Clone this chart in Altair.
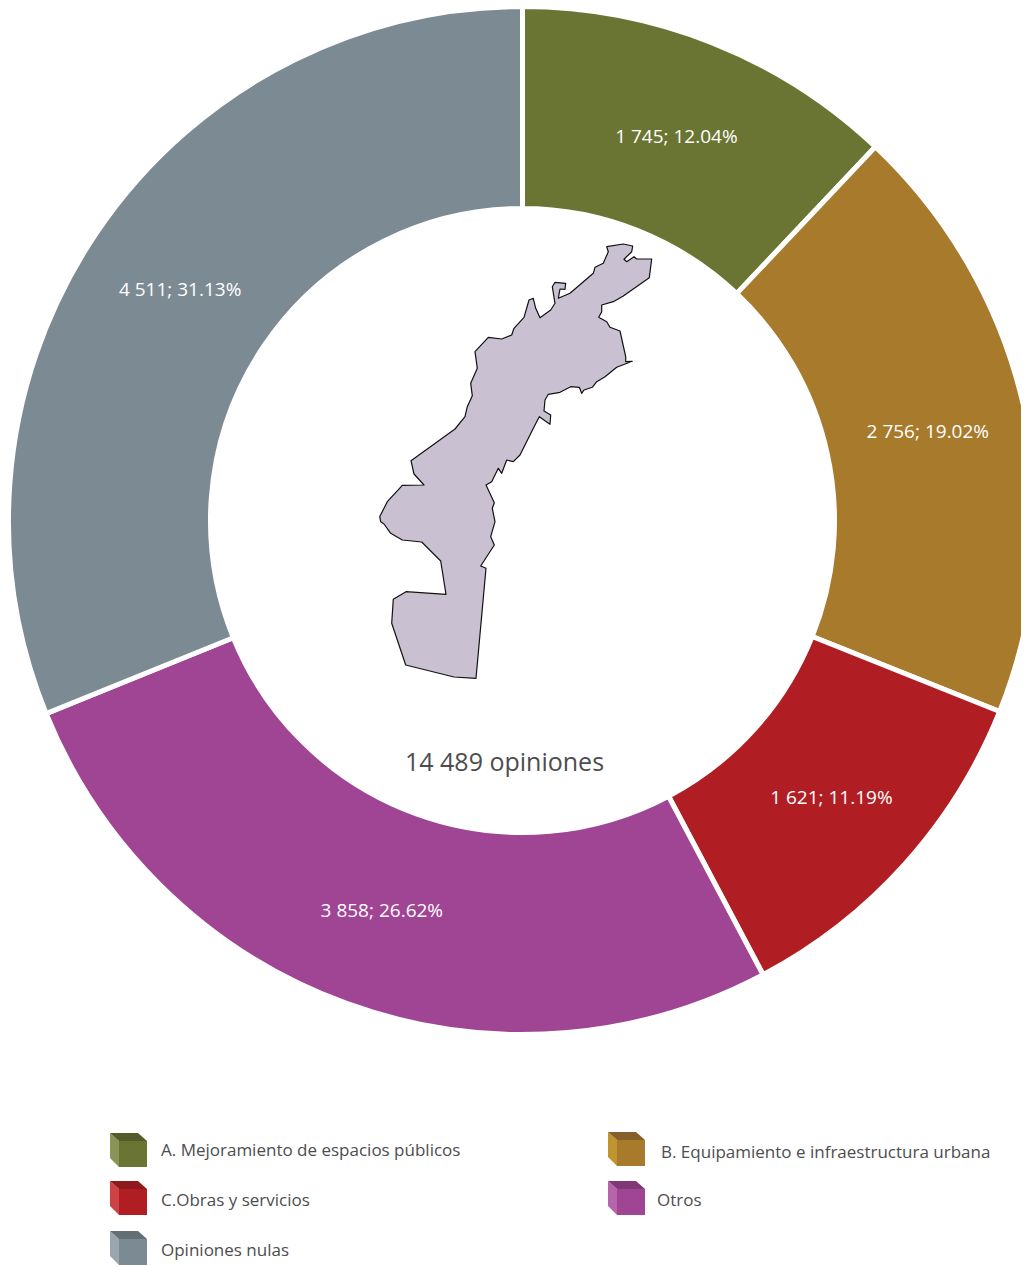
import altair as alt
import pandas as pd

# ---- values
categories = ["A. Mejoramiento de espacios públicos", "B. Equipamiento e infraestructura urbana",
              "C.Obras y servicios", "Otros", "Opiniones nulas"]
slice_order = [0, 1, 2, 3, 4]
counts = [1745, 2756, 1621, 3858, 4511]
labels = ["1 745; 12.04%", "2 756; 19.02%", "1 621; 11.19%", "3 858; 26.62%", "4 511; 31.13%"]
colors = ["#6b7533", "#a87a2c", "#b01e23", "#a04494", "#7c8a93"]
cube_left = ["#8a9458", "#c0952f", "#cc4347", "#b765ab", "#9aa5ad"]
cube_top = ["#545a2a", "#86602a", "#8f1a1e", "#7f3777", "#646e75"]

total_label = "14 489 opiniones"

legend_x = [161, 661, 161, 657, 161]
legend_y = [1151, 1153, 1201, 1201, 1251]
cube_x = [110, 608, 110, 608, 110]
cube_y = [1133, 1132, 1181, 1181, 1231]

# cube outline, relative to its top-left corner
cube_front = [(9, 8), (37, 8), (37, 34), (9, 34)]
cube_side = [(0, 0), (9, 8), (9, 34), (0, 25)]
cube_roof = [(0, 0), (28, 0), (37, 8), (9, 8)]

# outline of the territory
map_outline = [
    (651.7, 259), (649.3, 277.7), (623.3, 296), (613.3, 301.7), (601.7, 305), (601.7, 311.7),
    (598.7, 317.3), (606.7, 321.7), (610, 327.3), (620, 331), (625.7, 356.7), (625.7, 361.7),
    (632.3, 361.3), (616.7, 367.3), (605, 376.7), (596.7, 381.7), (592.3, 387.3), (584, 390),
    (581.7, 393.3), (579.3, 387.3), (570.7, 386.7), (560, 392.3), (548.3, 394.3), (545, 400),
    (544, 411), (550.7, 415), (550, 424.3), (539.3, 416.7), (535, 425), (520, 455),
    (513.3, 461.7), (506.7, 460), (501.7, 473.3), (498.3, 468.3), (491.7, 481.7), (486, 485),
    (494.3, 502.7), (492.3, 508.3), (495, 521.7), (490.7, 536.7), (494.3, 545), (480.7, 566),
    (486, 568.3), (476, 678.3), (454, 677), (405.7, 665), (391.7, 623.3), (393.3, 599.3),
    (406, 591.7), (446, 594.3), (440.7, 561), (421.7, 542), (402.3, 540), (390.7, 533.3),
    (384, 524), (380.7, 521.7), (379.7, 516.7), (387.3, 501.7), (402.3, 485.3), (424, 485),
    (414, 474), (411, 460.7), (455, 429), (465, 416.7), (467.3, 406.7), (472.3, 395.7),
    (470.7, 383.3), (477.3, 368.3), (475, 351.7), (488.3, 337.3), (501.7, 339), (511.7, 335),
    (514, 328.3), (524, 317.3), (529, 300), (533.3, 298.3), (535.7, 308.3), (540, 317.7),
    (550.7, 310), (555, 303.3), (552.3, 286.7), (555, 282.3), (565.7, 283.3), (565, 289.3),
    (560, 289), (558.3, 298.3), (570, 293.3), (593.3, 273.3), (595, 267.3), (603.3, 263.3),
    (608.3, 251.7), (606.7, 246.7), (623.3, 244), (632.7, 246), (631.7, 251.7), (624, 259.3),
    (626.7, 261.7), (634, 256.7), (636.7, 259), (651.7, 259),
]

FONT = "Open Sans"
M = 8  # page margin
CX, CY = 522.5 - M, 520.5 - M
W, H = 1029 - 2 * M, 1267 - M

donut = pd.DataFrame({"order": slice_order, "count": counts, "label": labels, "color": colors})

base = alt.Chart(donut).encode(
    theta=alt.Theta("count:Q", stack=True),
    order=alt.Order("order:O"),
)
arcs = base.mark_arc(x=CX, y=CY, radius=514, radius2=312, stroke="white", strokeWidth=5).encode(
    color=alt.Color("color:N", scale=None)
)
slice_text = base.mark_text(
    x=CX, y=CY, radius=414, dx=1, dy=1, font=FONT, fontSize=19, color="white"
).encode(text="label:N")


def feature(points, fill):
    ring = [list(p) for p in points]
    if ring[0] != ring[-1]:
        ring.append(ring[0])
    return {
        "type": "Feature",
        "properties": {"fill": fill},
        "geometry": {"type": "Polygon", "coordinates": [ring]},
    }


identity = dict(type="identity", scale=1, translate=[-M, -M])

cube_features = []
for i in range(len(categories)):
    for shape, fill in ((cube_front, colors[i]), (cube_side, cube_left[i]), (cube_roof, cube_top[i])):
        cube_features.append(feature([(cube_x[i] + a, cube_y[i] + b) for a, b in shape], fill))

cubes = alt.Chart(alt.Data(values=cube_features)).mark_geoshape(strokeWidth=0).encode(
    fill=alt.Fill("properties.fill:N", scale=None)
).project(**identity)

territory = alt.Chart(alt.Data(values=[feature(map_outline, "#c9c1d1")])).mark_geoshape(
    stroke="#111111", strokeWidth=1.2, strokeJoin="round"
).encode(
    fill=alt.Fill("properties.fill:N", scale=None)
).project(**identity)

legend_df = pd.DataFrame({"x": [v - M for v in legend_x], "y": [v - M for v in legend_y], "t": categories})
legend_text = alt.Chart(legend_df).mark_text(
    align="left", baseline="middle", font=FONT, fontSize=17, color="#4d4d4f"
).encode(
    x=alt.X("x:Q", scale=None, axis=None),
    y=alt.Y("y:Q", scale=None, axis=None),
    text="t:N",
)

centre_df = pd.DataFrame({"x": [504.5 - M], "y": [763 - M], "t": [total_label]})
centre_text = alt.Chart(centre_df).mark_text(
    align="center", baseline="middle", font=FONT, fontSize=25, color="#4d4d4f"
).encode(
    x=alt.X("x:Q", scale=None, axis=None),
    y=alt.Y("y:Q", scale=None, axis=None),
    text="t:N",
)

chart = alt.layer(arcs, slice_text, territory, cubes, legend_text, centre_text).properties(
    width=W, height=H, padding=0, autosize=alt.AutoSizeParams(type="none"), background="white"
).configure_view(stroke=None)

chart.save("out.html", embed_options={"renderer": "svg", "actions": False})
